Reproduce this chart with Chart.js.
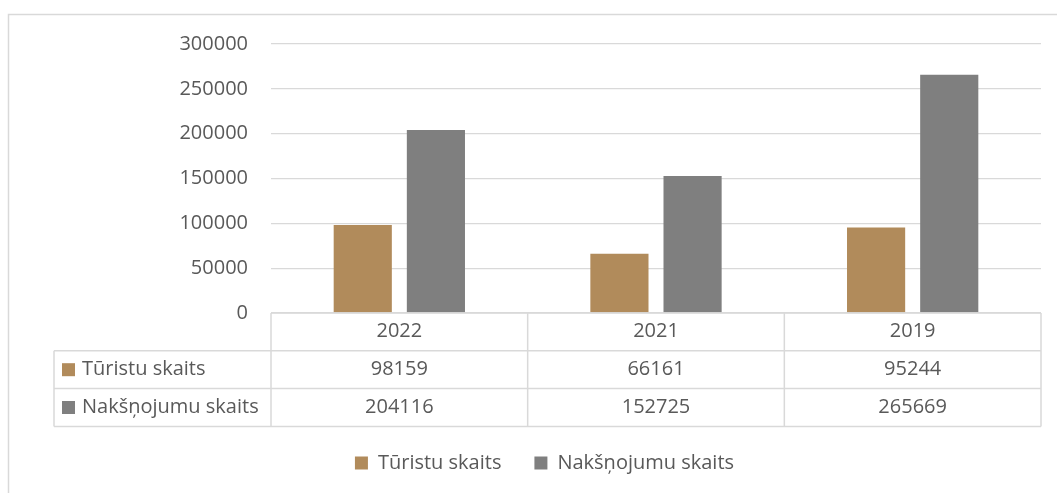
<!DOCTYPE html>
<html>
<head>
<meta charset="utf-8">
<script src="https://cdn.jsdelivr.net/npm/chart.js@4.4.1/dist/chart.umd.min.js"></script>
<style>
  html, body { margin: 0; padding: 0; background: #fff; }
  canvas { display: block; }
</style>
</head>
<body>
<canvas id="chart" width="1057" height="493"></canvas>
<script>
// Chart data
const years = ['2022', '2021', '2019'];
const touristCounts = [98159, 66161, 95244];
const nightCounts = [204116, 152725, 265669];
const seriesNames = ['Tūristu skaits', 'Nakšņojumu skaits'];
const yMax = 300000;
const yStep = 50000;

const colors = ['#B18B5B', '#7F7F7F'];
const textColor = '#595959';
const lineColor = '#D9D9D9';
const fontFamily = '"Open Sans", sans-serif';
const fontSize = 20;

// Draws the light frame around the chart and the data table under the plot
const dataTable = {
    id: 'dataTable',
    beforeDraw(chart) {
        const ctx = chart.ctx;
        ctx.save();
        ctx.strokeStyle = lineColor;
        ctx.lineWidth = 1.5;
        ctx.beginPath();
        ctx.moveTo(8.5, chart.height);
        ctx.lineTo(8.5, 14.5);
        ctx.lineTo(chart.width, 14.5);
        ctx.stroke();
        ctx.restore();
    },
    afterDraw(chart) {
        const { ctx, chartArea } = chart;
        const xScale = chart.scales.x;
        const rowH = 37.8;
        const top = chartArea.bottom;
        const tableLeft = 54;
        const catW = (chartArea.right - chartArea.left) / years.length;
        const rows = [touristCounts, nightCounts];

        ctx.save();
        ctx.strokeStyle = lineColor;
        ctx.lineWidth = 1.5;
        ctx.beginPath();
        ctx.moveTo(chartArea.left, top);
        ctx.lineTo(chartArea.right, top);
        for (let r = 1; r <= 3; r++) {
            ctx.moveTo(tableLeft, top + r * rowH);
            ctx.lineTo(chartArea.right, top + r * rowH);
        }
        ctx.moveTo(tableLeft, top + rowH);
        ctx.lineTo(tableLeft, top + 3 * rowH);
        for (let i = 0; i <= years.length; i++) {
            const x = chartArea.left + i * catW;
            ctx.moveTo(x, top);
            ctx.lineTo(x, top + 3 * rowH);
        }
        ctx.stroke();

        ctx.font = fontSize + 'px ' + fontFamily;
        ctx.textBaseline = 'middle';
        rows.forEach((values, r) => {
            const y = top + rowH * (r + 1.5);
            // series key and name
            ctx.fillStyle = colors[r];
            ctx.fillRect(62, y - 6.5, 13, 13);
            ctx.fillStyle = textColor;
            ctx.textAlign = 'left';
            ctx.fillText(seriesNames[r], 82, y);
            ctx.textAlign = 'center';
            values.forEach((v, i) => {
                ctx.fillText(String(v), xScale.getPixelForValue(i), y);
            });
        });
        ctx.restore();
    }
};

new Chart(document.getElementById('chart'), {
    type: 'bar',
    data: {
        labels: years,
        datasets: [
            { label: seriesNames[0], data: touristCounts, backgroundColor: colors[0] },
            { label: seriesNames[1], data: nightCounts, backgroundColor: colors[1] }
        ]
    },
    options: {
        responsive: false,
        animation: false,
        categoryPercentage: 0.57,
        barPercentage: 0.795,
        layout: { padding: { top: 44, right: 16, bottom: 10, left: 48 } },
        plugins: {
            tooltip: { enabled: false },
            legend: {
                position: 'bottom',
                labels: {
                    boxWidth: 13,
                    boxHeight: 13,
                    padding: 33,
                    color: textColor,
                    font: { family: fontFamily, size: fontSize }
                }
            }
        },
        scales: {
            x: {
                grid: { display: false, drawTicks: false },
                border: { display: false },
                ticks: {
                    color: textColor,
                    padding: 6,
                    font: { family: fontFamily, size: fontSize }
                },
                afterFit(scale) { scale.height = 107; }
            },
            y: {
                min: 0,
                max: yMax,
                grid: { color: lineColor, lineWidth: 1.3, drawTicks: false },
                border: { display: false },
                ticks: {
                    stepSize: yStep,
                    padding: 23,
                    color: textColor,
                    font: { family: fontFamily, size: fontSize },
                    callback: (value) => String(value)
                },
                afterFit(scale) { scale.width = 223; }
            }
        }
    },
    plugins: [dataTable]
});
</script>
</body>
</html>
